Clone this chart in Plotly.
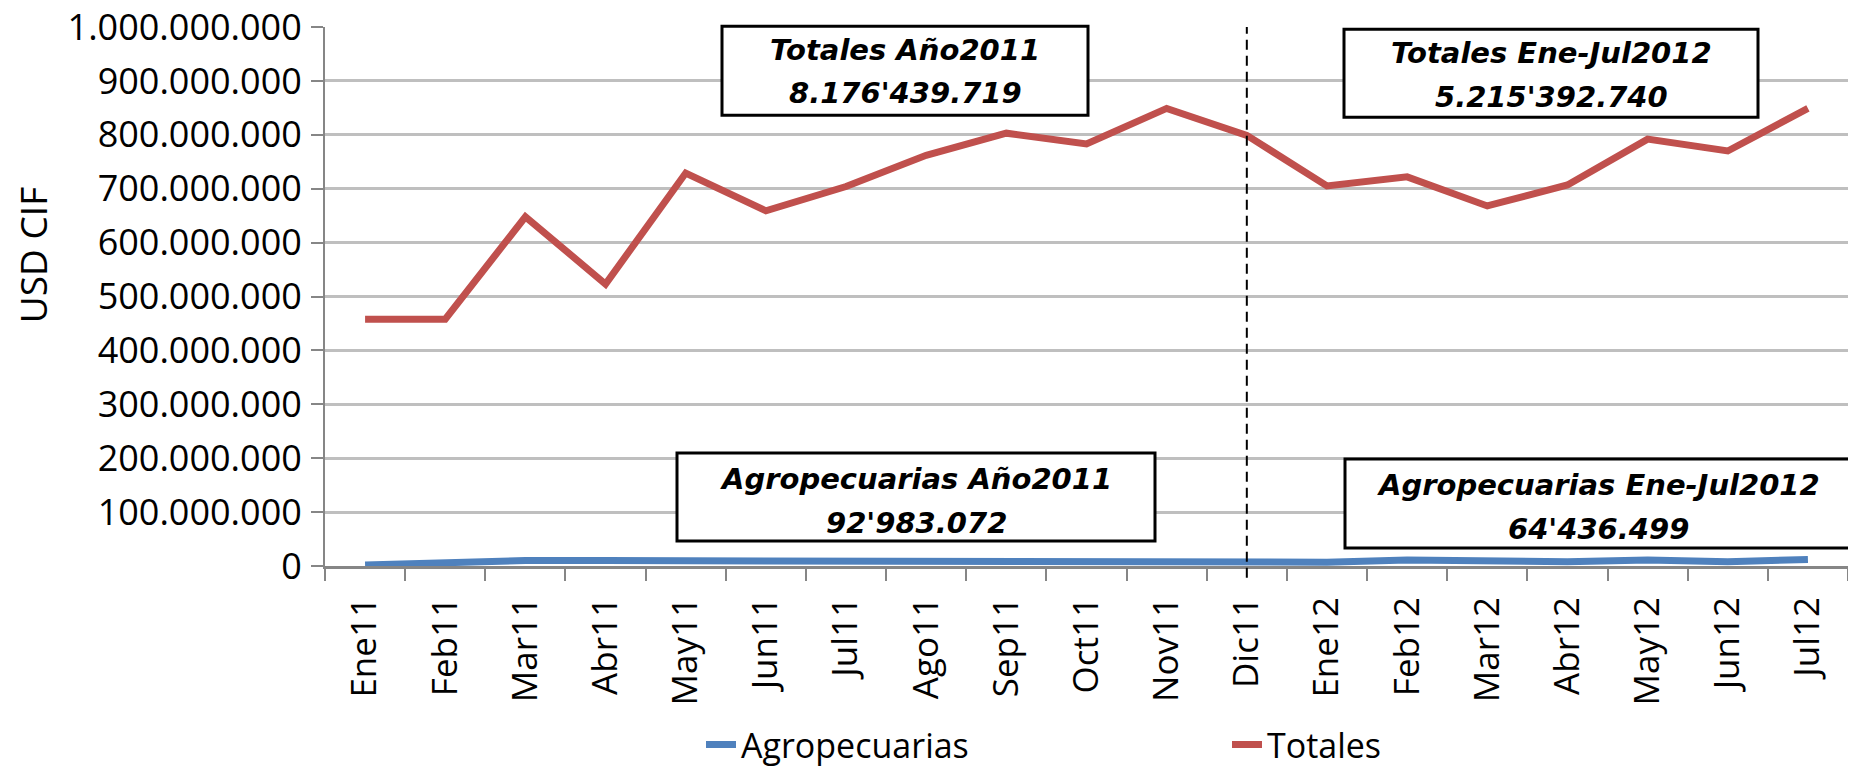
import plotly.graph_objects as go

# ---------------- data ----------------
categories = ["Ene11", "Feb11", "Mar11", "Abr11", "May11", "Jun11", "Jul11", "Ago11",
              "Sep11", "Oct11", "Nov11", "Dic11", "Ene12", "Feb12", "Mar12", "Abr12",
              "May12", "Jun12", "Jul12"]
agropecuarias = [2e6, 7e6, 10e6, 10e6, 10e6, 7.5e6, 7.5e6, 7.5e6, 7.5e6, 7.5e6, 7.5e6, 7.5e6,
                 7e6, 11e6, 8e6, 8e6, 11e6, 8e6, 12e6]
totales = [458e6, 458e6, 648e6, 523e6, 729e6, 659e6, 704e6, 762e6, 803e6, 783e6, 849e6, 799e6,
           705e6, 722e6, 668e6, 707e6, 792e6, 770e6, 849e6]
y_ticks = [0, 100e6, 200e6, 300e6, 400e6, 500e6, 600e6, 700e6, 800e6, 900e6, 1000e6]
y_title = "USD CIF"
divider_category = "Dic11"
boxes = [
    ("Totales Año2011", "8.176'439.719"),
    ("Totales Ene-Jul2012", "5.215'392.740"),
    ("Agropecuarias Año2011", "92'983.072"),
    ("Agropecuarias Ene-Jul2012", "64'436.499"),
]

# ---------------- layout geometry (page pixels) ----------------
W, H = 1856, 767
OFF = 8                      # default body margin of the html page
L, R, T, B = 325, 1848, 26.7, 566

def px(x):
    return (x - L) / (R - L)

def py(y):
    return (B - y) / (B - T)

# box rectangles: (x0, x1, y0, y1, line1 y, line2 y)
box_geom = [
    (722, 1088, 26, 115, 50, 93),
    (1344, 1758, 29, 117, 53, 97),
    (677, 1155, 453, 541, 479, 523),
    (1345, 1852, 459, 548, 485, 529),
]

BLUE = "#4F81BD"
RED = "#C0504D"
GRID = "#BFBFBF"
AXIS = "#868686"
FAMILY = "Open Sans, DejaVu Sans, sans-serif"
XTICKFONT = dict(family=FAMILY, size=35, color="black")
YTICKFONT = dict(family=FAMILY, size=36, color="black")
BOXFONT = dict(family="DejaVu Sans, sans-serif", size=29, color="black")

fig = go.Figure()
fig.add_trace(go.Scatter(x=categories, y=agropecuarias, mode="lines", name="Agropecuarias",
                         line=dict(color=BLUE, width=7)))
fig.add_trace(go.Scatter(x=categories, y=totales, mode="lines", name="Totales",
                         line=dict(color=RED, width=7)))

shapes = []
annotations = []
# vertical dashed divider
shapes.append(dict(type="line", xref="x", yref="paper", x0=divider_category, x1=divider_category,
                   y0=-0.022, y1=1, line=dict(color="black", width=2, dash="10px,6px"),
                   layer="above"))

for (l1, l2), (x0, x1, y0, y1, t1, t2) in zip(boxes, box_geom):
    shapes.append(dict(type="rect", xref="paper", yref="paper", x0=px(x0), x1=px(x1),
                       y0=py(y1), y1=py(y0), fillcolor="white",
                       line=dict(color="black", width=3), layer="above"))
    xc = px((x0 + x1) / 2)
    for txt, ty in ((l1, t1), (l2, t2)):
        annotations.append(dict(xref="paper", yref="paper", x=xc, y=py(ty), xanchor="center",
                                yanchor="middle", showarrow=False,
                                text="<b><i>%s</i></b>" % txt, font=BOXFONT))

# y-axis title (placed above the axis centre, as in the original)
annotations.append(dict(xref="paper", yref="paper", x=px(32), y=py(255), xanchor="center",
                        yanchor="middle", showarrow=False, textangle=-90, text=y_title,
                        font=dict(family=FAMILY, size=37, color="black")))

fig.update_layout(
    width=W - OFF, height=H - OFF,
    margin=dict(l=L - OFF, r=W - R, t=T - OFF, b=H - B, autoexpand=False),
    paper_bgcolor="white", plot_bgcolor="white",
    separators=",.",
    showlegend=True,
    legend=dict(orientation="h", x=px(701), y=py(745), xanchor="left", yanchor="middle",
                font=dict(family=FAMILY, size=34, color="black"),
                entrywidth=481, entrywidthmode="pixels", bgcolor="rgba(0,0,0,0)"),
    shapes=shapes,
    annotations=annotations,
    xaxis=dict(type="category", categoryorder="array", categoryarray=categories,
               tickson="boundaries", ticks="outside", ticklen=12, tickwidth=2, tickcolor=AXIS,
               showline=True, linecolor=AXIS, linewidth=3, showgrid=False,
               tickangle=-90, tickfont=XTICKFONT, ticklabelstandoff=14,
               range=[-0.5, len(categories) - 0.5], automargin=False, zeroline=False),
    yaxis=dict(range=[0, 1e9], tickvals=y_ticks, tickformat=",d",
               ticks="outside", ticklen=12, tickwidth=2, tickcolor=AXIS,
               showline=True, linecolor=AXIS, linewidth=2,
               showgrid=True, gridcolor=GRID, gridwidth=3, zeroline=False,
               tickfont=YTICKFONT, ticklabelstandoff=2, ticklabeloverflow="allow",
               automargin=False),
)

fig.write_html("out.html")
